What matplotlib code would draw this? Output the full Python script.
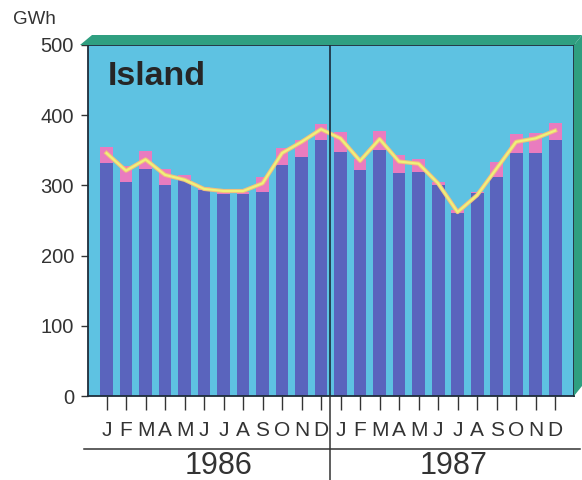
import matplotlib
matplotlib.use("Agg")
import matplotlib.pyplot as plt
from matplotlib.patches import Polygon
from matplotlib.lines import Line2D

plt.rcParams['font.family'] = ['Liberation Sans', 'DejaVu Sans']

# Monthly electricity (GWh), Jan 1986 - Dec 1987
months = ["J", "F", "M", "A", "M", "J", "J", "A", "S", "O", "N", "D"]
years = ["1986", "1987"]
base_gwh = [332, 305, 324, 301, 308, 293, 288, 288, 291, 329, 341, 365,
            348, 322, 350, 318, 319, 300, 260, 289, 312, 346, 346, 364]
total_gwh = [355, 328, 349, 324, 315, 298, 290, 290, 312, 353, 365, 388,
             376, 338, 378, 343, 337, 305, 265, 291, 333, 373, 374, 389]
trend_gwh = [346, 321, 337, 315, 308, 295, 292, 292, 303, 346, 362, 380,
             367, 335, 366, 334, 331, 303, 262, 286, 324, 362, 367, 378]
y_ticks = [0, 100, 200, 300, 400, 500]

W, H = 582, 480
fig = plt.figure(figsize=(W / 100, H / 100), dpi=100)
fig.patch.set_facecolor("white")

L, R, T, B = 88, 574, 45, 396
ax = fig.add_axes([L / W, (H - B) / H, (R - L) / W, (B - T) / H])

sky = "#5ec2e2"
bar_blue = "#5a64bd"
pink = "#e97cbf"
green = "#2f9f80"
ink = "#333333"

ax.set_facecolor(sky)
x = list(range(len(base_gwh)))
top_part = [t - b for t, b in zip(total_gwh, base_gwh)]
ax.bar(x, base_gwh, width=0.66, color=bar_blue, zorder=2)
ax.bar(x, top_part, bottom=base_gwh, width=0.66, color=pink, zorder=2)

# smoothed trend line with a soft glow
ax.plot(x, trend_gwh, color="#f2c07c", lw=3.0, solid_joinstyle="round", zorder=3)
ax.plot(x, trend_gwh, color="#eef27a", lw=1.5, solid_joinstyle="round", zorder=4)

ax.set_xlim(-0.95, 23.97)
ax.set_ylim(0, 500)
ax.axvline(11.45, color="#1a2a3a", lw=1.2, zorder=5)

for s in ["top", "right", "left", "bottom"]:
    ax.spines[s].set_color("#1f2d3a")
    ax.spines[s].set_linewidth(1.3)

ax.set_yticks(y_ticks)
ax.set_yticklabels([str(v) for v in y_ticks], fontsize=14.5, color=ink)
ax.tick_params(axis="y", direction="out", length=5, width=1, color=ink, pad=5)

ax.set_xticks(x)
ax.set_xticklabels(months * 2, fontsize=15, color=ink)
ax.tick_params(axis="x", direction="out", length=10, width=1, color=ink, pad=8)

ax.text(0.04, 0.955, "Island", transform=ax.transAxes, fontsize=24.5,
        fontweight="bold", color="#262626", va="top", ha="left")

# 3-D frame: top and right faces
def px(xp, yp):
    return (xp / W, 1 - yp / H)

top_face = Polygon([px(80, 45), px(92, 35), px(582, 35), px(574, 45)],
                   closed=True, transform=fig.transFigure, facecolor=green,
                   edgecolor="none", zorder=0)
side_face = Polygon([px(574, 45), px(582, 35), px(582, 386), px(574, 396)],
                    closed=True, transform=fig.transFigure, facecolor=green,
                    edgecolor="none", zorder=0)
fig.patches.extend([top_face, side_face])

# year band beneath month labels
fig.add_artist(Line2D([84 / W, 580 / W], [1 - 449 / H, 1 - 449 / H],
                      color=ink, lw=1.1, transform=fig.transFigure))
fig.add_artist(Line2D([330 / W, 330 / W], [1 - 396 / H, 0],
                      color=ink, lw=1.1, transform=fig.transFigure))
fig.text(219 / W, 1 - 466 / H, years[0], fontsize=22, color=ink,
         ha="center", va="center")
fig.text(454 / W, 1 - 466 / H, years[1], fontsize=22, color=ink,
         ha="center", va="center")

fig.text(34 / W, 1 - 20 / H, "GWh", fontsize=13.5, color=ink,
         ha="center", va="center")

fig.savefig("out.png", dpi=100)
